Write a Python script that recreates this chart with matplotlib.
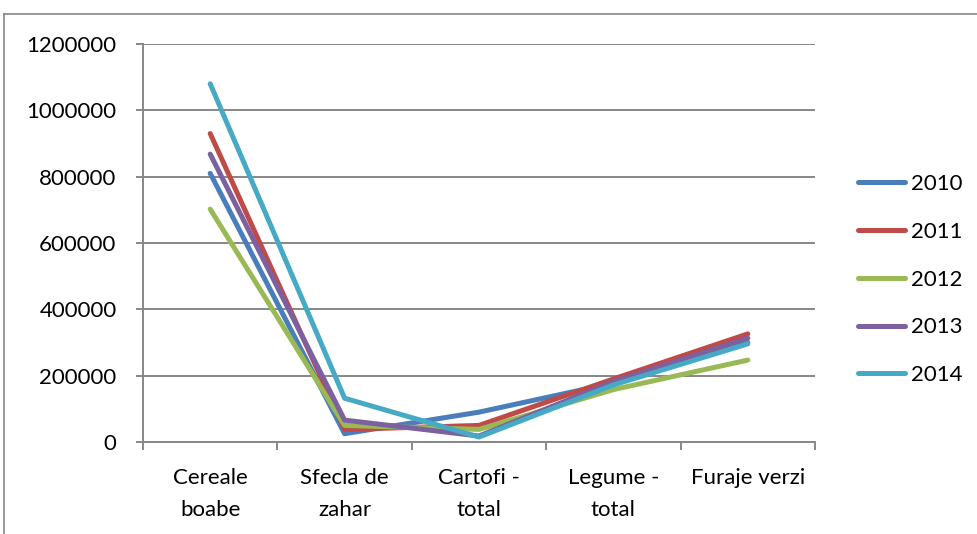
"""
Line chart of crop production by category, 2010-2014, in an Excel-like style.
"""

import matplotlib

matplotlib.use("Agg")
import matplotlib.pyplot as plt
from matplotlib.lines import Line2D

plt.rcParams["font.family"] = ["Lato", "DejaVu Sans"]

categories = ["Cereale\nboabe", "Sfecla de\nzahar", "Cartofi -\ntotal", "Legume -\ntotal", "Furaje verzi"]
years = ["2010", "2011", "2012", "2013", "2014"]

values_2010 = [810000, 25000, 90000, 178000, 300000]
values_2011 = [930000, 38000, 50000, 190000, 326000]
values_2012 = [702000, 50000, 38000, 158000, 247000]
values_2013 = [868000, 66000, 18000, 182000, 313000]
values_2014 = [1080000, 132000, 15000, 172000, 296000]

y_ticks = [0, 200000, 400000, 600000, 800000, 1000000, 1200000]

series = [values_2010, values_2011, values_2012, values_2013, values_2014]
colors = ["#4A7EBB", "#BE4B48", "#98B954", "#7D60A0", "#46AAC5"]
GRID = "#878787"
FS = 16

fig = plt.figure(figsize=(9.77, 5.34), dpi=100)
ax = fig.add_axes([143 / 977, 1 - 442 / 534, (815 - 143) / 977, (442 - 44) / 534])

x = list(range(len(categories)))
for vals, color, label in zip(series, colors, years):
    ax.plot(x, vals, color=color, lw=3.6, solid_capstyle="round",
            solid_joinstyle="round", label=label, zorder=3)

ax.set_xlim(-0.5, len(categories) - 0.5)
ax.set_ylim(0, 1200000)
ax.set_yticks(y_ticks)
ax.set_yticklabels([str(v) for v in y_ticks])
ax.yaxis.grid(True, color=GRID, lw=1.4)
ax.set_axisbelow(True)

# boundaries carry the tick marks, centres carry the labels
ax.set_xticks([i - 0.5 for i in range(len(categories) + 1)])
ax.set_xticklabels([])
ax.set_xticks(x, minor=True)
ax.set_xticklabels(categories, minor=True, fontsize=FS, linespacing=1.8,
                   multialignment="center")
ax.tick_params(axis="x", which="major", length=6, width=1.4, color=GRID)
ax.tick_params(axis="x", which="minor", length=0, pad=18.5)
ax.tick_params(axis="y", length=5, width=1.4, color=GRID, labelsize=FS, pad=14)

for side in ("top", "right"):
    ax.spines[side].set_visible(False)
for side in ("left", "bottom"):
    ax.spines[side].set_color(GRID)
    ax.spines[side].set_linewidth(1.4)

leg = ax.legend(loc="upper left", bbox_to_anchor=(847 / 977, 1 - 163 / 534),
                bbox_transform=fig.transFigure, frameon=False, fontsize=FS,
                handlelength=2.1, handletextpad=0.3, labelspacing=1.25,
                borderpad=0)
for h in leg.get_lines():
    h.set_solid_capstyle("round")

# outer chart frame, clipped by the image edge on the right and bottom
fig.add_artist(Line2D([3.5 / 977, 3.5 / 977], [0, 1 - 14 / 534],
                      transform=fig.transFigure, color=GRID, lw=1.2))
fig.add_artist(Line2D([3.5 / 977, 1], [1 - 14 / 534, 1 - 14 / 534],
                      transform=fig.transFigure, color=GRID, lw=1.2))

fig.savefig("out.png", dpi=100)
